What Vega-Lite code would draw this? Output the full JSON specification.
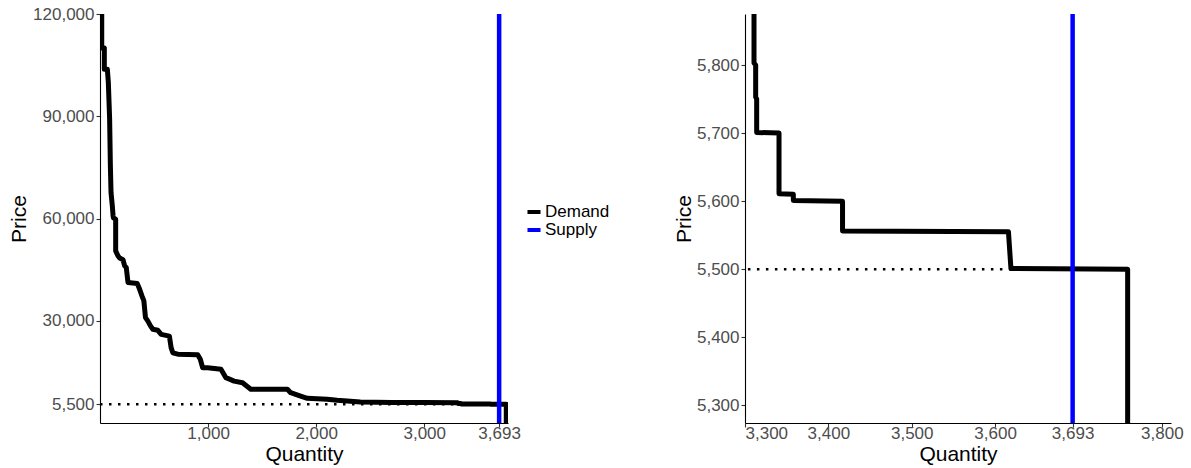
{
  "$schema": "https://vega.github.io/schema/vega-lite/v6.json",
  "background": "white",
  "padding": {"left": 8, "top": 5, "right": 5, "bottom": 5},
  "bounds": "flush",
  "spacing": 237,
  "config": {
    "view": {"stroke": null},
    "font": "Liberation Sans",
    "axis": {
      "grid": false,
      "domainColor": "#000000",
      "domainWidth": 1.1,
      "tickColor": "#333333",
      "tickSize": 4,
      "tickWidth": 1.1,
      "labelFont": "Liberation Sans",
      "labelFontSize": 17,
      "labelColor": "#4d4d4d",
      "labelPadding": 2,
      "titleFont": "Liberation Sans",
      "titleFontSize": 21,
      "titleFontWeight": "normal",
      "titleColor": "#000000"
    },
    "axisX": {"labelPadding": -1.5, "titlePadding": 1.5},
    "axisY": {"titlePadding": 3},
    "legend": {"padding": 0}
  },
  "datasets": {
    "demand": [
      {"i": 0, "q": 16, "p": 120000, "series": "Demand"},
      {"i": 1, "q": 16, "p": 110000, "series": "Demand"},
      {"i": 2, "q": 40, "p": 110000, "series": "Demand"},
      {"i": 3, "q": 40, "p": 103800, "series": "Demand"},
      {"i": 4, "q": 68, "p": 103800, "series": "Demand"},
      {"i": 5, "q": 77, "p": 100000, "series": "Demand"},
      {"i": 6, "q": 89, "p": 89300, "series": "Demand"},
      {"i": 7, "q": 96, "p": 75500, "series": "Demand"},
      {"i": 8, "q": 102, "p": 67600, "series": "Demand"},
      {"i": 9, "q": 114, "p": 63700, "series": "Demand"},
      {"i": 10, "q": 121, "p": 60800, "series": "Demand"},
      {"i": 11, "q": 124, "p": 60200, "series": "Demand"},
      {"i": 12, "q": 145, "p": 59800, "series": "Demand"},
      {"i": 13, "q": 145, "p": 50500, "series": "Demand"},
      {"i": 14, "q": 167, "p": 49000, "series": "Demand"},
      {"i": 15, "q": 182, "p": 48400, "series": "Demand"},
      {"i": 16, "q": 213, "p": 47900, "series": "Demand"},
      {"i": 17, "q": 228, "p": 46100, "series": "Demand"},
      {"i": 18, "q": 243, "p": 45600, "series": "Demand"},
      {"i": 19, "q": 259, "p": 41200, "series": "Demand"},
      {"i": 20, "q": 345, "p": 40900, "series": "Demand"},
      {"i": 21, "q": 366, "p": 39300, "series": "Demand"},
      {"i": 22, "q": 388, "p": 37300, "series": "Demand"},
      {"i": 23, "q": 406, "p": 35800, "series": "Demand"},
      {"i": 24, "q": 421, "p": 30900, "series": "Demand"},
      {"i": 25, "q": 443, "p": 29900, "series": "Demand"},
      {"i": 26, "q": 467, "p": 28500, "series": "Demand"},
      {"i": 27, "q": 489, "p": 27500, "series": "Demand"},
      {"i": 28, "q": 535, "p": 27200, "series": "Demand"},
      {"i": 29, "q": 566, "p": 26000, "series": "Demand"},
      {"i": 30, "q": 642, "p": 25500, "series": "Demand"},
      {"i": 31, "q": 658, "p": 22100, "series": "Demand"},
      {"i": 32, "q": 674, "p": 20600, "series": "Demand"},
      {"i": 33, "q": 720, "p": 20200, "series": "Demand"},
      {"i": 34, "q": 904, "p": 20000, "series": "Demand"},
      {"i": 35, "q": 928, "p": 18700, "series": "Demand"},
      {"i": 36, "q": 950, "p": 16200, "series": "Demand"},
      {"i": 37, "q": 996, "p": 16200, "series": "Demand"},
      {"i": 38, "q": 1119, "p": 15800, "series": "Demand"},
      {"i": 39, "q": 1165, "p": 13300, "series": "Demand"},
      {"i": 40, "q": 1241, "p": 12300, "series": "Demand"},
      {"i": 41, "q": 1319, "p": 11800, "series": "Demand"},
      {"i": 42, "q": 1395, "p": 9900, "series": "Demand"},
      {"i": 43, "q": 1734, "p": 9900, "series": "Demand"},
      {"i": 44, "q": 1764, "p": 8900, "series": "Demand"},
      {"i": 45, "q": 1856, "p": 7900, "series": "Demand"},
      {"i": 46, "q": 1918, "p": 7250, "series": "Demand"},
      {"i": 47, "q": 2102, "p": 6950, "series": "Demand"},
      {"i": 48, "q": 2194, "p": 6650, "series": "Demand"},
      {"i": 49, "q": 2287, "p": 6450, "series": "Demand"},
      {"i": 50, "q": 2409, "p": 6150, "series": "Demand"},
      {"i": 51, "q": 2700, "p": 6050, "series": "Demand"},
      {"i": 52, "q": 3000, "p": 6000, "series": "Demand"},
      {"i": 53, "q": 3310.8, "p": 5960, "series": "Demand"},
      {"i": 54, "q": 3310.8, "p": 5803, "series": "Demand"},
      {"i": 55, "q": 3312.8, "p": 5800, "series": "Demand"},
      {"i": 56, "q": 3312.8, "p": 5753, "series": "Demand"},
      {"i": 57, "q": 3314, "p": 5750, "series": "Demand"},
      {"i": 58, "q": 3314, "p": 5701, "series": "Demand"},
      {"i": 59, "q": 3340.8, "p": 5700, "series": "Demand"},
      {"i": 60, "q": 3340.8, "p": 5611, "series": "Demand"},
      {"i": 61, "q": 3358, "p": 5610, "series": "Demand"},
      {"i": 62, "q": 3358, "p": 5601, "series": "Demand"},
      {"i": 63, "q": 3417, "p": 5600, "series": "Demand"},
      {"i": 64, "q": 3417, "p": 5556, "series": "Demand"},
      {"i": 65, "q": 3616, "p": 5555, "series": "Demand"},
      {"i": 66, "q": 3619, "p": 5501, "series": "Demand"},
      {"i": 67, "q": 3759, "p": 5500, "series": "Demand"},
      {"i": 68, "q": 3759, "p": 0, "series": "Demand"}
    ],
    "supply": [{"q": 3693, "series": "Supply"}],
    "clearing": [{"q0": 0, "q1": 3693, "p": 5500}]
  },
  "hconcat": [
    {
      "width": 408,
      "height": 409,
      "layer": [
        {
          "data": {"name": "clearing"},
          "mark": {"type": "rule", "strokeDash": [2.5, 6.5], "strokeWidth": 2.5, "color": "#000000", "clip": true},
          "encoding": {
            "x": {"field": "q0", "type": "quantitative"},
            "x2": {"field": "q1"},
            "y": {"field": "p", "type": "quantitative"}
          }
        },
        {
          "data": {"name": "demand"},
          "mark": {"type": "line", "strokeWidth": 5, "strokeJoin": "round", "clip": true},
          "encoding": {
            "x": {
              "field": "q", "type": "quantitative",
              "scale": {"domain": [0, 3775], "nice": false, "zero": false},
              "axis": {"title": "Quantity", "values": [1000, 2000, 3000, 3693], "format": ",d"}
            },
            "y": {
              "field": "p", "type": "quantitative",
              "scale": {"domain": [0, 120000], "nice": false, "zero": false},
              "axis": {"title": "Price", "values": [5500, 30000, 60000, 90000, 120000], "format": ",d"}
            },
            "order": {"field": "i", "type": "quantitative"},
            "color": {
              "field": "series", "type": "nominal",
              "scale": {"domain": ["Demand", "Supply"], "range": ["#000000", "#0000ff"]},
              "legend": {
                "title": null, "orient": "none", "legendX": 425, "legendY": 189,
                "symbolType": "stroke", "symbolStrokeWidth": 4, "symbolSize": 170,
                "labelFontSize": 17, "labelColor": "#000000", "labelFont": "Liberation Sans",
                "labelOffset": 2, "rowPadding": 1
              }
            }
          }
        },
        {
          "data": {"name": "supply"},
          "mark": {"type": "rule", "strokeWidth": 4.5},
          "encoding": {
            "x": {"field": "q", "type": "quantitative"},
            "color": {"field": "series", "type": "nominal"}
          }
        }
      ]
    },
    {
      "width": 426,
      "height": 409,
      "layer": [
        {
          "data": {"name": "clearing"},
          "mark": {"type": "rule", "strokeDash": [2.5, 6.5], "strokeWidth": 2.5, "color": "#000000", "clip": true},
          "encoding": {
            "x": {"field": "q0", "type": "quantitative"},
            "x2": {"field": "q1"},
            "y": {"field": "p", "type": "quantitative"}
          }
        },
        {
          "data": {"name": "demand"},
          "mark": {"type": "line", "strokeWidth": 5, "strokeJoin": "round", "clip": true, "color": "#000000"},
          "encoding": {
            "x": {
              "field": "q", "type": "quantitative",
              "scale": {"domain": [3300, 3811], "nice": false, "zero": false},
              "axis": {"title": "Quantity", "values": [3300, 3400, 3500, 3600, 3693, 3800], "format": ",d"}
            },
            "y": {
              "field": "p", "type": "quantitative",
              "scale": {"domain": [5274, 5875], "nice": false, "zero": false},
              "axis": {"title": "Price", "values": [5300, 5400, 5500, 5600, 5700, 5800], "format": ",d", "titlePadding": 2}
            },
            "order": {"field": "i", "type": "quantitative"}
          }
        },
        {
          "data": {"name": "supply"},
          "mark": {"type": "rule", "strokeWidth": 4.5, "color": "#0000ff"},
          "encoding": {
            "x": {"field": "q", "type": "quantitative"}
          }
        }
      ]
    }
  ],
  "resolve": {"scale": {"x": "independent", "y": "independent", "color": "independent"}}
}
